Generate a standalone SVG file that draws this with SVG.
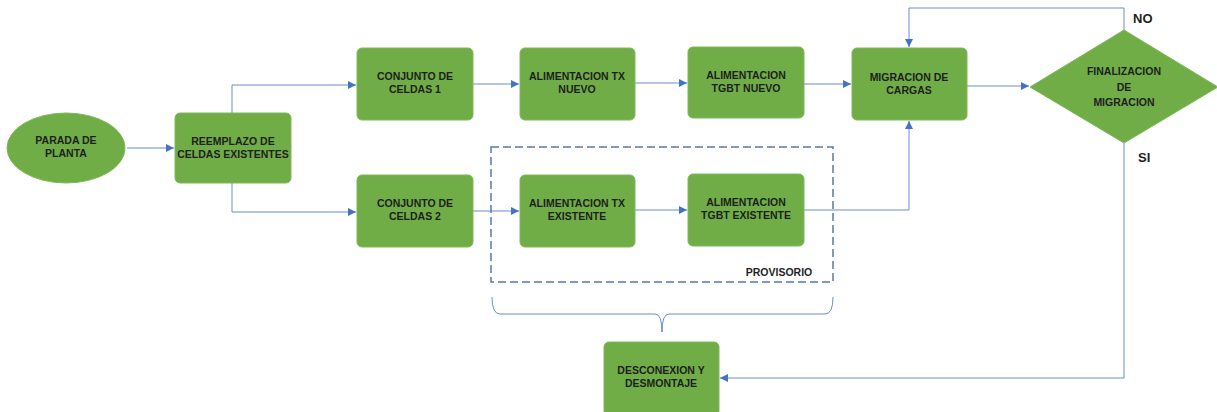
<svg xmlns="http://www.w3.org/2000/svg" width="1217" height="412" viewBox="0 0 1217 412">
<style>
.n{fill:#70AD47;stroke:#7FB85A;stroke-width:1}
.t{font-family:"Liberation Sans",Arial,sans-serif;font-weight:bold;font-size:10.5px;fill:#1E1E1E;text-anchor:middle}
.l{font-family:"Liberation Sans",Arial,sans-serif;font-weight:bold;font-size:13px;fill:#1E1E1E}
.c{fill:none;stroke:#4472C4;stroke-width:1;stroke-opacity:0.8}
</style>
<defs>
<marker id="a" viewBox="0 0 10 10" refX="10" refY="5" markerWidth="8" markerHeight="8" markerUnits="userSpaceOnUse" orient="auto">
<path d="M0,0 L10,5 L0,10 z" fill="#4472C4"/>
</marker>
</defs>
<rect x="0" y="0" width="1217" height="412" fill="#fff"/>
<g id="connectors">
<path class="c" d="M127,148 L174,148" marker-end="url(#a)"/>
<path class="c" d="M232,113 L232,85 L356,85" marker-end="url(#a)"/>
<path class="c" d="M232,183 L232,212 L356,212" marker-end="url(#a)"/>
<path class="c" d="M473,84 L519,84" marker-end="url(#a)"/>
<path class="c" d="M635,83 L687,83" marker-end="url(#a)"/>
<path class="c" d="M804,84 L851,84" marker-end="url(#a)"/>
<path class="c" d="M967,86 L1029,86" marker-end="url(#a)"/>
<path class="c" d="M1124,30 L1124,8 L909,8 L909,47" marker-end="url(#a)"/>
<path class="c" d="M473,211 L519,211" marker-end="url(#a)"/>
<path class="c" d="M635,210 L687,210" marker-end="url(#a)"/>
<path class="c" d="M804,210 L909,210 L909,121" marker-end="url(#a)"/>
<path class="c" d="M1124,143 L1124,378 L720,378" marker-end="url(#a)"/>
<path class="c" d="M492,297 Q492,314 500,314 L655,314 Q662,314 662,332 Q662,314 669,314 L825,314 Q833,314 833,297"/>
</g>
<g id="provisorio">
<rect x="491" y="147" width="342" height="135" fill="none" stroke="#5A78A6" stroke-width="1.5" stroke-dasharray="8,4"/>
<text class="t" x="779" y="276">PROVISORIO</text>
</g>
<g id="parada">
<ellipse class="n" cx="66" cy="148" rx="59" ry="35"/>
<text class="t" x="66" y="144">PARADA DE</text>
<text class="t" x="66" y="157">PLANTA</text>
</g>
<g id="reemplazo">
<rect class="n" x="175" y="113" width="116" height="70" rx="5"/>
<text class="t" x="233" y="145">REEMPLAZO DE</text>
<text class="t" x="233" y="158">CELDAS EXISTENTES</text>
</g>
<g id="conjunto1">
<rect class="n" x="357" y="48" width="116" height="72" rx="5"/>
<text class="t" x="415" y="80">CONJUNTO DE</text>
<text class="t" x="415" y="93">CELDAS 1</text>
</g>
<g id="txnuevo">
<rect class="n" x="520" y="48" width="115" height="72" rx="5"/>
<text class="t" x="577" y="80">ALIMENTACION TX</text>
<text class="t" x="577" y="93">NUEVO</text>
</g>
<g id="tgbtnuevo">
<rect class="n" x="688" y="47" width="116" height="71" rx="5"/>
<text class="t" x="746" y="79">ALIMENTACION</text>
<text class="t" x="746" y="92">TGBT NUEVO</text>
</g>
<g id="migracion">
<rect class="n" x="852" y="48" width="115" height="72" rx="5"/>
<text class="t" x="909" y="81">MIGRACION DE</text>
<text class="t" x="909" y="94">CARGAS</text>
</g>
<g id="finalizacion">
<polygon class="n" points="1124,30 1218,87 1124,143 1030,87"/>
<text class="t" x="1124" y="75">FINALIZACION</text>
<text class="t" x="1124" y="91">DE</text>
<text class="t" x="1124" y="106">MIGRACION</text>
</g>
<g id="conjunto2">
<rect class="n" x="357" y="175" width="116" height="72" rx="5"/>
<text class="t" x="415" y="207">CONJUNTO DE</text>
<text class="t" x="415" y="220">CELDAS 2</text>
</g>
<g id="txexistente">
<rect class="n" x="520" y="175" width="115" height="72" rx="5"/>
<text class="t" x="577" y="207">ALIMENTACION TX</text>
<text class="t" x="577" y="220">EXISTENTE</text>
</g>
<g id="tgbtexistente">
<rect class="n" x="688" y="174" width="116" height="72" rx="5"/>
<text class="t" x="746" y="206">ALIMENTACION</text>
<text class="t" x="746" y="219">TGBT EXISTENTE</text>
</g>
<g id="desconexion">
<rect class="n" x="604" y="342" width="115" height="74" rx="5"/>
<text class="t" x="661" y="374">DESCONEXION Y</text>
<text class="t" x="661" y="387">DESMONTAJE</text>
</g>
<g id="labels">
<text class="l" x="1133" y="23">NO</text>
<text class="l" x="1138" y="162">SI</text>
</g>
</svg>
